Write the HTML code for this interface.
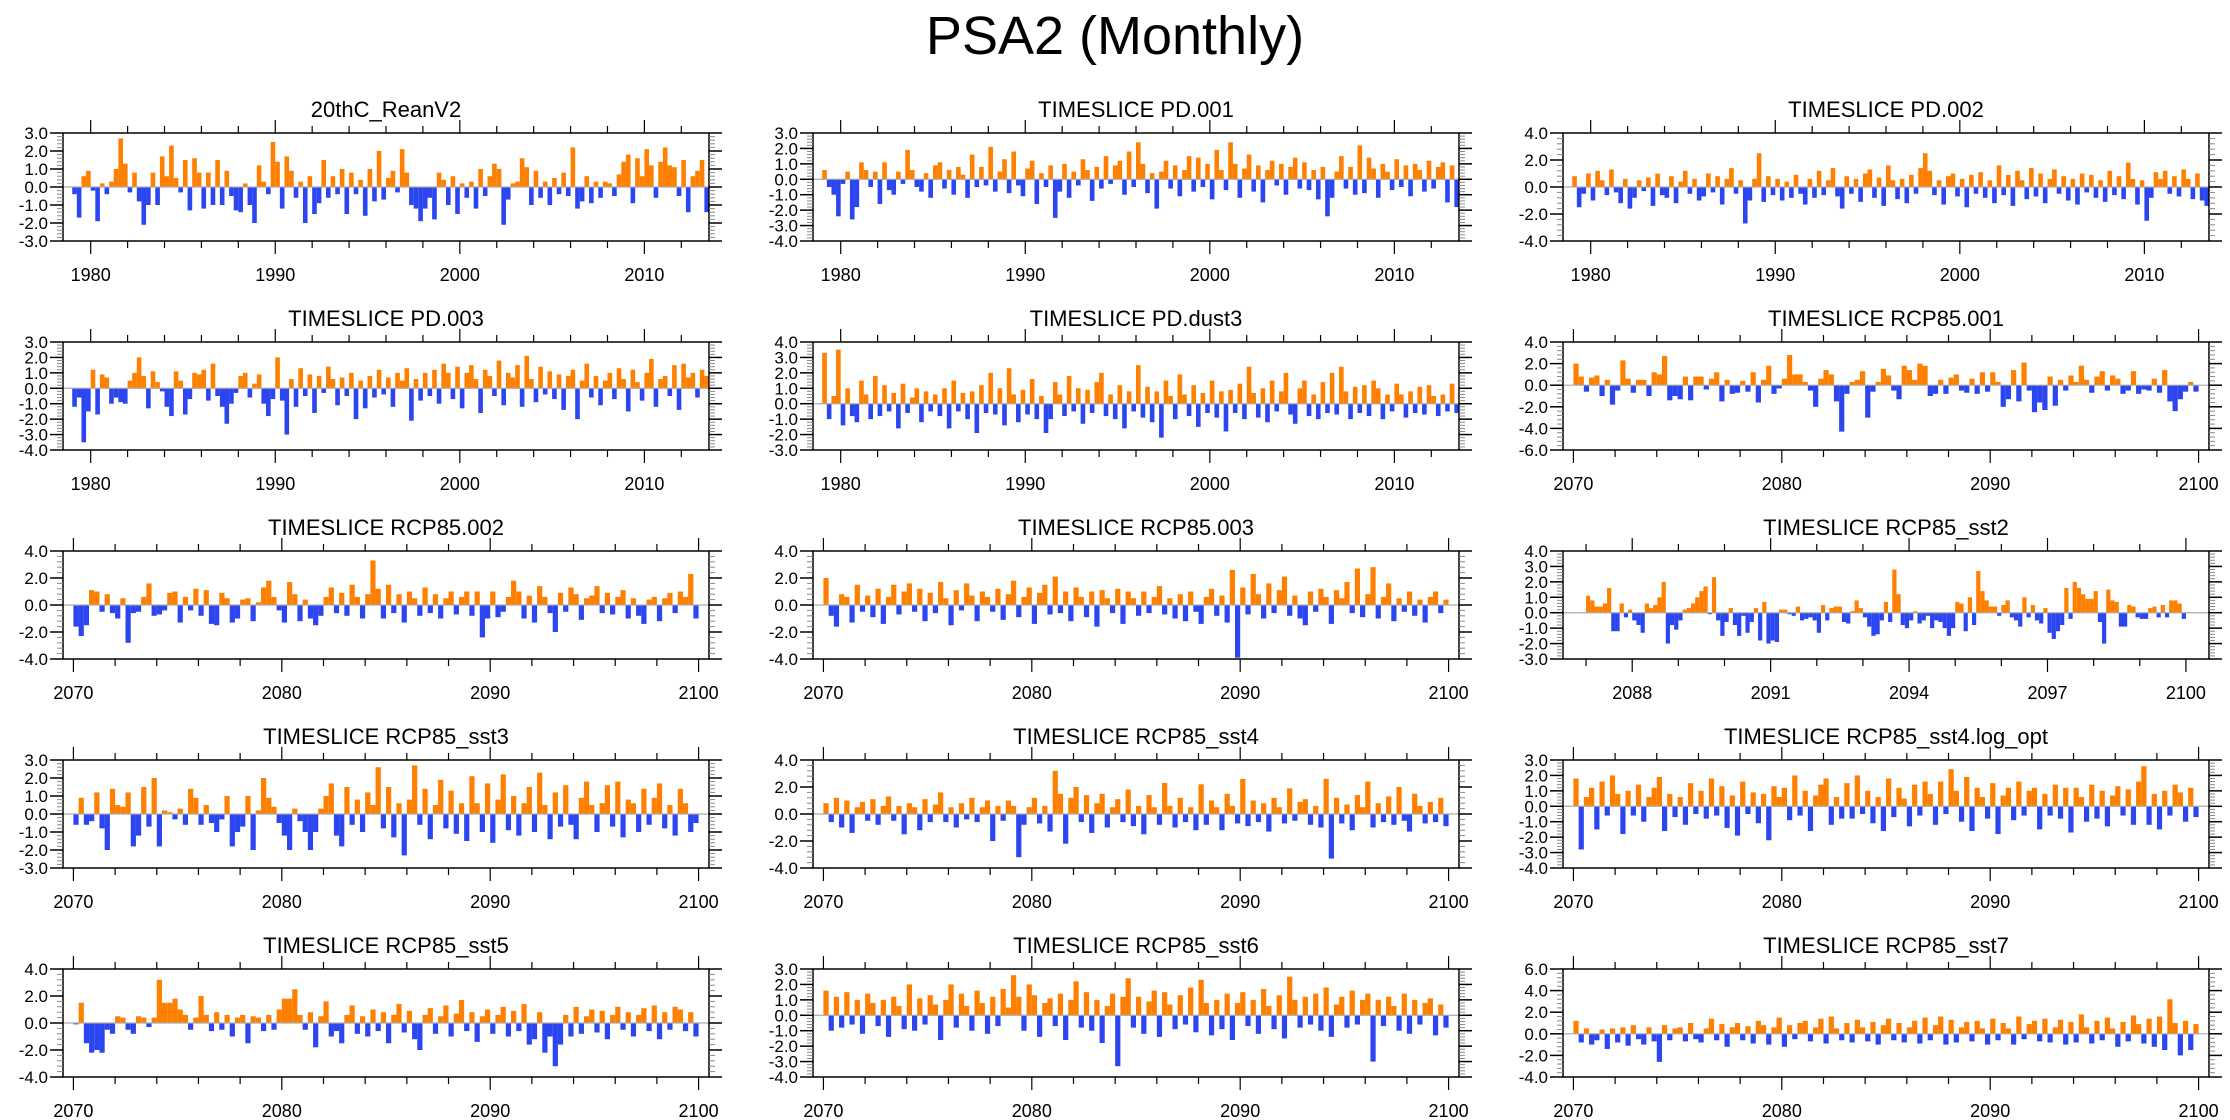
<!DOCTYPE html>
<html><head><meta charset="utf-8"><style>
html,body{margin:0;padding:0;background:#fff;}
svg{display:block;font-family:"Liberation Sans",Arial,sans-serif;}
</style></head><body>
<svg id="fig" width="2230" height="1120" viewBox="0 0 2230 1120" xmlns="http://www.w3.org/2000/svg">
<rect width="2230" height="1120" fill="#fff"/>
<text x="1115" y="54" font-size="54" text-anchor="middle">PSA2 (Monthly)</text>
</svg>
<script>
const titles=["20thC_ReanV2","TIMESLICE PD.001","TIMESLICE PD.002","TIMESLICE PD.003","TIMESLICE PD.dust3","TIMESLICE RCP85.001","TIMESLICE RCP85.002","TIMESLICE RCP85.003","TIMESLICE RCP85_sst2","TIMESLICE RCP85_sst3","TIMESLICE RCP85_sst4","TIMESLICE RCP85_sst4.log_opt","TIMESLICE RCP85_sst5","TIMESLICE RCP85_sst6","TIMESLICE RCP85_sst7"];
const yMins=[-3,-4,-4,-4,-3,-6,-4,-4,-3,-3,-4,-4,-4,-4,-4];
const yMaxs=[3,3,4,3,4,4,4,4,4,3,4,3,4,3,6];
const ySteps=[1,1,2,1,1,2,2,2,1,1,2,1,2,1,2];
const dataStart=[1979,1979,1979,1979,1979,2070,2070,2070,2087,2070,2070,2070,2070,2070,2070];
const dataEnd=[2013.5,2013.5,2013.5,2013.5,2013.5,2100,2100,2100,2100,2100,2100,2100,2100,2100,2100];
const xMins=[1978.5,1978.5,1978.5,1978.5,1978.5,2069.5,2069.5,2069.5,2086.5,2069.5,2069.5,2069.5,2069.5,2069.5,2069.5];
const xMaxs=[2013.5,2013.5,2013.5,2013.5,2013.5,2100.5,2100.5,2100.5,2100.5,2100.5,2100.5,2100.5,2100.5,2100.5,2100.5];
const xMajorTicks=[[1980,1990,2000,2010],[2070,2080,2090,2100],[2088,2091,2094,2097,2100]];
const xMinorStep=[2,2,1];
const xMinorFrom=[1978,2070,2087];

const s0=[-0.4,-1.7,0.6,0.9,-0.2,-1.9,0.2,-0.4,0.3,1.0,2.7,1.3,-0.3,0.8,-0.8,-2.1,-1.0,0.8,-1.0,1.7,0.6,2.3,0.5,-0.3,1.5,-1.3,1.6,0.8,-1.2,0.8,-1.0,1.5,-1.0,0.9,-0.5,-1.3,-1.4,0.2,-1.0,-2.0,1.2,0.3,-0.4,2.5,1.4,-1.2,1.7,0.9,-0.6,0.3,-2.0,0.6,-1.5,-0.9,1.5,-0.6,0.6,-0.4,1.0,-1.5,0.8,-0.4,0.4,-1.6,1.0,-0.8,2.0,-0.7,0.5,0.9,-0.3,2.1,0.8,-1.0,-1.2,-1.9,-1.2,-0.6,-1.8,0.8,0.4,-1.0,0.6,-1.5,0.2,-0.6,0.3,-1.2,1.0,-0.5,0.6,1.3,1.0,-2.1,-0.7,0.2,0.3,1.6,1.1,-1.0,0.9,-0.6,0.3,-1.0,0.5,-0.4,0.8,-0.5,2.2,-1.2,-0.8,0.6,-0.9,0.3,-0.6,0.3,0.2,-0.5,0.7,1.4,1.8,-0.9,1.6,0.6,2.1,1.2,-0.6,1.4,2.2,1.2,1.1,-0.5,1.5,-1.4,0.6,0.9,1.5,-1.4];
const s1=[0.6,-0.5,-1.0,-2.4,-0.3,0.5,-2.6,-1.8,1.1,0.6,-0.5,0.5,-1.6,1.1,-0.7,-1.0,0.5,-0.3,1.9,0.6,-0.5,-0.8,0.4,-1.2,0.9,1.1,-0.6,0.6,-1.0,0.8,0.3,-1.2,1.6,-0.5,0.8,-0.4,2.1,-0.8,0.5,1.3,-0.9,1.8,-0.4,-1.1,0.7,1.2,-1.6,0.4,-0.5,0.9,-2.5,-0.8,1.0,-1.2,0.5,-0.4,1.3,0.6,-1.4,0.8,-0.6,1.5,-0.3,0.9,1.2,-1.0,1.8,-0.5,2.4,1.0,-0.9,0.4,-1.9,0.5,1.2,-0.6,0.9,-1.1,0.6,1.5,-0.8,1.4,-0.5,1.0,-1.3,1.9,0.6,-0.7,2.4,1.0,-1.2,0.7,1.6,-0.8,0.9,-1.5,0.6,1.2,-0.4,1.0,-1.0,0.8,1.4,-0.6,1.1,-0.7,0.6,-1.3,0.8,-2.4,-1.2,0.5,1.5,-0.6,0.8,-1.0,2.2,-0.9,1.4,0.7,-1.2,1.0,0.5,-0.7,1.3,-0.5,0.9,-1.1,1.0,0.6,-0.8,1.2,-0.6,0.8,1.1,-1.5,0.9,-1.8];
const s2=[0.8,-1.5,-0.5,1.0,-1.0,1.2,0.5,-0.6,1.3,-0.4,-1.2,0.6,-1.6,-0.8,0.5,-0.3,0.7,-1.4,1.0,-0.6,-0.8,0.8,-1.2,0.4,1.2,-0.5,0.6,-1.0,-0.7,1.0,-0.4,0.8,-1.3,0.6,1.4,-0.5,0.5,-2.7,-1.0,0.6,2.5,-1.1,0.8,-0.6,0.6,-1.0,0.4,-0.8,0.9,-0.5,-1.3,0.6,-0.8,1.2,-0.6,0.5,1.4,-0.7,-1.6,0.8,-0.5,0.6,-1.1,1.0,1.3,-0.8,0.7,-1.4,1.6,0.5,-0.9,0.6,-1.2,0.9,-0.5,1.4,2.5,1.2,-0.6,0.5,-1.3,0.8,1.0,-0.7,0.6,-1.5,0.9,-0.5,1.1,-0.8,0.5,-1.2,1.6,-0.6,0.9,-1.4,1.2,0.5,-0.9,1.4,-0.7,1.0,-1.2,0.6,1.3,-0.5,0.8,-1.0,0.6,-1.3,1.0,-0.4,0.9,-0.8,0.5,-1.1,1.2,-0.6,0.8,-0.9,1.8,0.6,-1.3,0.5,-2.5,-0.8,1.1,0.6,1.2,-0.5,0.8,-0.7,1.3,0.6,-0.9,1.0,-1.0,-1.4];
const s3=[-1.2,-0.6,-3.5,-1.5,1.2,-1.7,0.9,0.7,-1.0,-0.6,-0.9,-1.0,0.5,1.0,2.0,0.8,-1.3,1.1,0.4,-0.2,-1.2,-1.8,1.1,0.5,-1.7,-0.7,1.0,0.9,1.2,-0.8,1.6,-0.5,-1.2,-2.3,-1.0,-0.3,0.8,1.0,-0.6,0.3,0.9,-1.0,-1.8,-0.7,2.0,-0.8,-3.0,0.6,-1.2,1.3,-0.5,0.9,-1.6,0.8,-0.3,1.4,0.6,-1.1,0.7,-0.5,1.0,-2.0,0.5,-1.3,0.8,-0.6,1.2,-0.4,0.7,-1.2,1.0,0.5,1.3,-2.1,0.6,-0.8,1.0,-0.5,1.2,-1.0,1.6,1.0,-0.7,1.4,-1.3,1.0,1.5,0.6,-1.6,1.2,0.8,-0.5,1.8,-1.1,1.0,0.7,1.5,-1.2,2.1,0.6,-0.9,1.4,-0.4,1.1,-0.7,0.9,-1.4,0.8,1.2,-2.0,0.5,1.6,-0.6,0.8,-1.1,0.5,1.0,-0.7,1.3,0.6,-1.5,1.2,0.4,-0.8,1.0,1.9,-1.2,0.6,0.8,-0.5,1.5,-1.4,1.6,0.7,1.0,-0.6,1.2,0.8];
const s4=[3.3,-1.0,0.5,3.5,-1.4,1.0,-0.8,-1.2,1.5,0.6,-1.0,1.8,-0.8,1.2,-0.5,0.7,-1.6,1.3,-0.6,0.4,1.0,-1.2,0.8,-0.5,0.6,-0.8,1.0,-1.6,1.5,-0.5,0.7,-1.0,0.8,-1.9,1.2,-0.6,2.0,-0.7,1.0,-1.4,2.3,0.6,-1.2,0.9,-0.7,1.6,-1.0,0.5,-1.9,-1.0,1.4,0.6,-0.8,1.8,-0.5,1.0,-1.3,0.9,-0.6,1.4,2.0,-0.8,0.6,-1.0,1.2,-1.6,0.8,-0.5,2.5,-0.9,1.1,-1.2,0.8,-2.2,1.5,0.5,-1.0,1.9,0.6,-0.8,1.2,-1.5,0.7,-0.6,1.5,-0.9,0.8,-1.8,0.9,-0.6,1.3,-1.0,2.4,0.7,-0.9,1.0,-1.2,1.5,-0.5,0.8,2.0,-0.7,-1.3,1.0,1.5,-0.8,0.6,-1.0,1.4,-0.6,2.0,-0.7,2.4,0.8,-1.0,1.1,-0.6,1.2,-0.8,1.5,1.0,-1.0,0.6,-0.5,1.3,0.6,-0.9,0.8,-0.6,1.1,-0.7,1.2,0.5,-0.8,0.6,-0.5,1.3,-0.6];
const s5=[2.0,0.8,-0.6,0.7,0.9,-1.0,0.5,-1.8,-0.5,2.3,0.6,-0.7,0.5,0.5,-1.0,1.2,1.0,2.7,-1.4,-1.0,-1.3,0.8,-1.4,0.8,0.8,-0.4,0.6,1.2,-1.5,0.5,-0.8,-0.7,0.4,-0.6,1.2,-1.6,0.5,1.8,-0.8,-0.3,0.6,2.8,1.0,1.0,0.3,-0.5,-2.0,0.6,1.4,1.0,-1.5,-4.3,-0.8,0.3,0.5,1.3,-3.0,-0.6,0.3,1.5,0.9,-0.5,-1.3,1.8,1.4,0.5,2.0,1.8,-1.0,-0.8,0.5,-0.8,0.7,1.0,-0.5,-0.7,0.6,-0.8,1.2,-0.6,1.2,0.3,-2.0,-1.3,1.4,-1.5,2.1,-0.5,-2.5,-1.6,-2.3,0.8,-1.9,0.5,-0.5,0.9,0.3,1.8,0.5,-0.7,0.8,1.3,-0.5,0.9,0.6,-0.8,-0.5,1.3,-0.8,-0.4,-0.5,0.6,-0.7,1.4,-1.5,-2.4,-1.3,-0.6,0.3,-0.6];
const s6=[-1.6,-2.3,-1.5,1.1,1.0,-0.5,0.8,-0.6,-1.0,0.5,-2.8,-0.6,-0.5,0.6,1.6,-0.8,-0.7,-0.4,0.9,1.0,-1.3,0.6,-0.4,1.2,-0.8,1.1,-1.4,-1.5,0.9,0.5,-1.3,-1.0,0.4,0.5,-1.2,0.2,1.3,1.8,0.6,-0.4,-1.3,1.7,0.8,-1.2,0.4,-1.0,-1.5,-0.8,0.6,1.3,-0.6,0.9,-0.8,1.5,0.6,-1.0,0.8,3.3,1.2,-1.0,1.5,-0.6,0.8,-1.3,1.0,0.5,-0.8,1.3,-0.6,0.8,-1.0,0.5,1.0,-0.7,0.6,1.0,-0.8,1.0,-2.4,-1.0,1.0,-0.9,-0.5,0.6,1.8,1.0,-1.0,0.7,-1.3,1.4,0.6,-0.6,-2.0,0.9,-0.5,1.3,0.8,-1.1,0.5,0.7,1.4,-0.6,0.9,-0.7,0.6,1.1,-1.0,0.5,-0.8,-1.4,0.4,0.6,-1.2,0.5,0.9,-0.6,1.0,0.6,2.3,-1.0];
const s7=[2.0,-0.8,-1.6,0.8,0.6,-1.3,1.5,-0.5,0.7,-0.9,1.2,-1.4,0.6,1.5,-0.7,1.0,1.6,-0.5,1.2,-1.2,0.9,-0.6,1.7,0.5,-1.5,1.1,-0.4,1.6,0.7,-1.2,1.0,0.6,-0.5,1.2,-1.1,0.8,1.8,-0.9,0.6,1.3,-1.4,0.9,1.5,-0.7,2.1,-0.6,1.0,-1.2,1.3,0.6,-0.9,1.0,-1.6,1.1,0.5,-0.6,1.2,-1.4,1.0,0.5,-0.8,1.0,-0.6,0.6,1.4,-0.7,0.5,-1.0,0.8,-1.2,1.0,-0.5,-1.4,0.6,1.2,-0.8,0.7,-1.3,2.6,-3.9,1.3,-0.7,2.3,0.8,-1.0,1.6,-0.6,1.1,2.1,-0.8,0.7,-1.0,-1.5,1.0,-0.5,1.2,0.6,-1.4,1.1,0.5,1.7,-0.6,2.7,-0.9,0.8,2.8,-1.0,0.6,1.6,-1.2,0.5,-0.5,1.0,-0.8,0.4,-1.3,0.6,1.0,-0.6,0.4];
const s8=[1.1,0.8,0.4,0.4,0.6,1.6,-1.2,-1.2,0.6,-0.3,0.2,-0.5,-0.8,-1.3,0.6,0.3,0.5,1.0,2.0,-2.0,-0.8,-1.1,-0.5,0.2,0.3,0.6,1.0,1.4,1.7,-0.1,2.3,-0.5,-1.5,-0.6,0.3,-0.8,-1.5,-0.2,-1.3,-0.6,0.3,-1.8,0.7,-2.0,-1.8,-1.9,0.2,0.2,-0.1,-0.2,0.4,-0.5,-0.4,-0.3,-0.5,-1.3,0.5,-0.5,0.3,0.4,0.4,-0.6,-0.7,0.1,0.8,0.3,-0.3,-0.9,-1.5,-1.4,-0.5,0.7,-0.6,2.8,1.2,-0.8,-1.0,-0.5,0.1,-0.7,-0.5,-0.2,-1.0,-0.5,-0.6,-1.0,-1.5,-1.0,0.7,0.6,-1.2,1.0,-0.8,2.7,1.4,0.8,0.4,0.4,-0.2,0.5,0.8,-0.3,-0.5,-0.9,1.0,-0.3,0.5,-0.5,-0.7,0.3,-1.3,-1.7,-1.2,-0.8,1.6,-0.4,2.0,1.6,1.2,0.9,0.9,1.4,-0.6,-2.0,1.5,0.8,0.7,-0.9,-0.9,0.5,0.4,-0.3,-0.4,-0.4,0.3,0.4,-0.3,0.5,-0.3,0.8,0.8,0.6,-0.4];
const s9=[-0.6,0.9,-0.6,-0.4,1.2,-0.8,-2.0,1.4,0.5,0.4,1.2,-1.8,-1.2,1.5,-0.7,2.0,-1.8,0.2,0.1,-0.3,0.3,-0.6,1.4,0.9,-0.6,0.5,-0.5,-1.0,-0.3,1.0,-1.8,-1.0,-0.7,1.0,-2.0,0.2,2.0,0.9,0.4,-0.5,-1.2,-2.0,0.3,-0.4,-1.0,-2.0,-1.0,0.3,1.0,1.7,-1.2,-1.8,1.5,-0.6,0.8,-1.0,1.2,0.5,2.6,-0.8,1.5,-1.3,0.6,-2.3,0.8,2.7,-0.6,1.4,-1.4,0.5,1.9,-0.8,1.3,-1.1,0.6,-1.5,2.1,0.6,-1.0,1.7,-1.6,0.8,2.2,-0.9,1.0,-1.2,0.6,1.5,-1.0,2.3,0.5,-1.4,1.2,-0.7,1.6,-0.6,-1.4,0.9,1.8,0.5,-1.0,0.6,1.6,-0.7,1.8,-1.3,0.8,0.6,-1.0,1.4,-0.6,0.9,1.7,-0.8,0.5,-1.2,1.4,0.6,-1.0,-0.5];
const s10=[0.8,-0.6,1.2,-1.0,1.0,-1.4,0.5,0.9,-0.5,1.1,-0.8,0.6,1.3,-0.5,0.6,-1.5,0.8,0.5,-1.2,1.1,-0.6,0.7,1.6,-0.6,0.5,-1.0,0.8,-0.4,1.2,-0.6,0.5,1.0,-2.0,0.6,-0.5,1.0,0.6,-3.2,-0.8,0.5,1.2,-0.7,0.6,-1.3,3.2,1.5,-2.2,1.2,2.0,-0.6,1.4,-1.4,0.8,1.5,-1.0,0.5,1.1,-0.6,1.8,-0.9,0.6,-1.5,1.4,0.5,-0.8,2.3,0.6,-1.0,1.2,-0.6,0.5,-1.2,2.2,-0.8,1.0,0.5,-1.2,1.5,0.6,-0.7,2.6,-0.9,1.0,-0.6,0.8,-1.3,1.2,0.5,-0.7,1.9,-0.5,0.9,1.1,-0.8,0.6,-1.0,2.6,-3.3,1.2,-0.7,0.7,-1.2,1.4,0.5,2.4,-1.0,0.8,-0.6,1.3,-0.8,2.0,-0.5,-1.3,1.5,0.6,-0.7,0.9,-0.6,1.2,-0.9];
const s11=[1.8,-2.8,0.6,1.2,-1.5,1.6,-0.6,2.0,0.8,-1.8,1.0,-0.6,1.4,-1.0,0.6,1.2,1.9,-1.6,0.8,-0.7,0.6,-1.2,1.5,-0.5,1.0,-0.8,1.8,-0.6,1.3,-1.4,0.7,-1.9,1.6,-0.5,0.9,-1.1,0.8,-2.2,1.3,0.6,1.2,-0.9,2.0,-0.6,1.0,-1.6,0.7,1.4,1.8,-1.2,0.6,-0.8,1.5,-0.8,2.0,-0.5,1.0,-1.1,0.6,-1.6,1.8,-0.7,1.2,0.5,-1.3,1.4,-0.6,1.6,0.8,-1.2,1.6,-0.5,2.4,1.0,-1.0,1.9,-1.6,1.2,0.6,-0.8,1.5,-1.8,0.7,1.2,-0.9,1.6,-0.6,1.0,1.2,-1.5,0.8,-0.6,1.4,-0.8,1.2,-1.7,1.2,0.6,-1.0,1.4,-0.8,1.0,-1.3,0.7,1.3,-0.6,1.1,-1.2,1.6,2.6,-1.2,0.8,-1.5,1.0,-0.6,1.4,0.9,-1.0,1.2,-0.7];
const s12=[-0.1,1.5,-1.5,-2.2,-2.0,-2.2,-0.5,-0.8,0.5,0.4,-0.5,-0.8,0.5,0.4,-0.3,0.4,3.2,1.5,1.5,1.8,1.0,0.6,-0.5,0.4,2.0,0.6,-0.6,0.8,-0.5,0.6,-1.0,0.4,0.6,-1.5,0.5,0.4,-0.6,0.6,-0.5,1.0,1.8,1.8,2.5,0.6,-0.5,0.8,-1.8,0.5,1.6,-1.0,-0.6,-1.5,0.6,1.3,-0.8,0.5,-1.0,1.0,-0.6,0.8,-1.5,0.6,1.4,-0.7,0.9,-1.2,-2.0,0.6,1.1,-0.8,0.5,1.3,-1.0,0.7,1.7,-0.6,0.8,-1.4,0.5,1.0,-0.8,0.6,1.2,-1.0,0.9,-0.6,1.4,-1.6,-1.2,0.8,-2.2,-1.0,-3.2,-1.6,0.6,-1.0,1.2,-0.8,0.5,1.0,-0.7,0.9,-1.2,0.6,1.2,-0.5,0.8,-1.0,0.6,1.1,-0.6,1.3,-1.2,0.8,-0.5,1.2,1.0,-0.6,0.8,-1.0];
const s13=[1.6,-1.0,1.2,-0.8,1.5,-0.6,1.0,-1.2,1.4,0.8,-0.7,1.0,-1.4,1.2,0.6,-0.9,2.0,-1.0,1.1,-0.6,1.3,0.7,-1.6,1.0,2.0,-0.8,1.4,0.6,-1.0,1.6,0.8,-1.2,1.2,-0.7,1.7,0.5,2.6,1.2,-1.0,2.0,1.3,-1.4,0.8,1.1,-0.7,1.4,-1.6,1.0,2.2,-0.8,1.5,-1.0,1.0,-1.8,0.6,1.4,-3.3,1.2,2.4,-0.8,1.2,-1.2,0.9,1.6,-1.4,1.5,0.7,-0.9,1.3,-0.6,1.8,-1.1,2.3,0.8,-1.3,1.0,-0.9,1.4,-1.6,0.8,1.5,-0.7,1.0,-1.2,1.7,0.6,-0.9,1.3,-1.5,2.5,1.0,-0.8,1.2,-0.6,1.4,-1.0,1.8,-1.4,0.7,1.2,-0.8,1.6,-0.6,1.0,1.4,-3.0,1.0,-0.7,1.2,0.6,-1.0,1.4,-1.2,1.0,-0.6,0.8,1.1,-1.3,0.7,-0.8];
const s14=[1.2,-0.8,0.5,-1.0,-0.6,0.4,-1.4,0.5,-0.8,0.6,-1.1,0.8,-0.5,-1.0,0.6,-0.7,-2.6,0.8,-0.6,0.5,0.6,-0.7,1.0,-0.5,-0.8,0.5,1.4,-0.6,0.9,-1.2,0.6,1.0,-0.6,0.7,-0.9,1.2,0.8,-1.0,0.6,1.5,-1.2,0.8,-0.5,1.0,1.2,-0.7,0.6,1.4,-0.9,1.6,0.5,-0.6,1.0,-0.8,1.3,0.6,-0.7,1.1,-1.0,0.8,1.4,-0.6,1.0,-0.8,0.6,1.2,-0.9,1.5,-0.6,0.8,1.6,-1.0,1.3,-0.8,0.6,1.1,-0.7,1.2,0.5,-1.0,1.4,-0.6,1.0,0.5,-1.0,1.6,-0.5,0.9,1.2,-0.7,1.4,-0.8,0.6,1.3,-1.0,1.1,-0.8,1.8,0.6,-0.9,1.2,-0.6,1.5,0.5,-1.2,1.1,-0.7,1.7,0.9,-0.9,1.4,-1.2,1.6,-1.5,3.2,1.0,-2.0,1.2,-1.5,0.9];
const series=[s0,s1,s2,s3,s4,s5,s6,s7,s8,s9,s10,s11,s12,s13,s14];

const NS="http://www.w3.org/2000/svg";
const svg=document.getElementById('fig');
const COLX=[63,813,1563], ROWY=[133,342,551,760,969], PW=646, PH=108;
function mk(tag,attrs,parent){const e=document.createElementNS(NS,tag);for(const k in attrs)e.setAttribute(k,attrs[k]);(parent||svg).appendChild(e);return e;}

for(let p=0;p<15;p++){
  const c=p%3, r=Math.floor(p/3);
  const L=COLX[c], T=ROWY[r];
  const g=mk('g',{});
  
  
  const xs=v=>L+(v-xMins[p])/(xMaxs[p]-xMins[p])*PW;
  const ys=v=>T+(yMaxs[p]-v)/(yMaxs[p]-yMins[p])*PH;
  const t=mk('text',{x:L+PW/2,y:T-16,'font-size':22,'text-anchor':'middle'},g);
  t.textContent=titles[p];
  
  
  const d=series[p], n=d.length;
  const dt=(dataEnd[p]-dataStart[p])/n;
  const bw=Math.max(1,(xs(dataStart[p]+dt)-xs(dataStart[p]))*1.0);
  const z=ys(0);
  const bars=mk('g',{},g);
  
  
  for(let i=0;i<n;i++){
    const v=d[i];
    const x=xs(dataStart[p]+(i+0.5)*dt)-bw/2;
    const y=ys(Math.max(v,0)), h=Math.abs(ys(v)-z);
    const b=mk('rect',{x:x,y:y,width:bw,height:Math.max(h,0.5),fill:v>=0?'#ff8000':'#2b45f0'},bars);
    
    
  }
  const zl=mk('line',{x1:L,x2:L+PW,y1:z,y2:z,stroke:'#aaa','stroke-width':1.2},g);
  
  
  const fr=mk('rect',{x:L,y:T,width:PW,height:PH,fill:'none',stroke:'#000','stroke-width':1.5},g);
  
  
  const ms=ySteps[p]/5;
  for(let k=0;yMins[p]+k*ms<=yMaxs[p]+1e-6;k++){
    const v=yMins[p]+k*ms, y=ys(v), major=(k%5===0);
    const len=major?13:6, col=major?'#000':'#888';
    mk('line',{x1:L-len,x2:L,y1:y,y2:y,stroke:col,'stroke-width':major?1.5:1},g);
    mk('line',{x1:L+PW,x2:L+PW+len,y1:y,y2:y,stroke:col,'stroke-width':major?1.5:1},g);
    if(major){
      const yl=mk('text',{x:L-15,y:y+6,'font-size':17,'text-anchor':'end'},g);
      yl.textContent=v.toFixed(1);
      
      
    }
  }
  const tk=p<5?0:(p===8?2:1);
  for(let v=xMinorFrom[tk];v<=xMaxs[p];v+=xMinorStep[tk]){
    if(v<xMins[p])continue;
    const x=xs(v), major=xMajorTicks[tk].includes(v), len=major?13:7;
    mk('line',{x1:x,x2:x,y1:T-len,y2:T,stroke:'#000','stroke-width':1.2},g);
    mk('line',{x1:x,x2:x,y1:T+PH,y2:T+PH+len,stroke:'#000','stroke-width':1.2},g);
  }
  for(const v of xMajorTicks[tk]){
    const xl=mk('text',{x:xs(v),y:T+PH+40,'font-size':18,'text-anchor':'middle'},g);
    xl.textContent=String(v);
    
    
  }
}
</script>
</body></html>
